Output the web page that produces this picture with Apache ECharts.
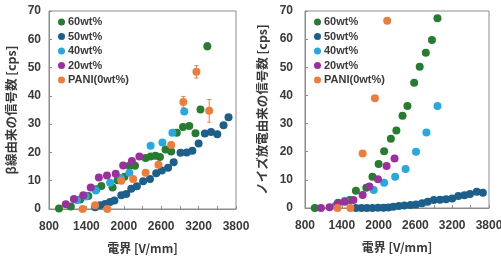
<!DOCTYPE html>
<html>
<head>
<meta charset="utf-8">
<script src="https://cdn.jsdelivr.net/npm/echarts@6/dist/echarts.min.js"></script>
<style>
  html, body { margin: 0; padding: 0; background: #fff; }
  #chart { width: 501px; height: 260px; }
</style>
</head>
<body>
<div id="chart"></div>
<script>
// series names
const names = ['60wt%', '50wt%', '40wt%', '20wt%', 'PANI(0wt%)'];
const colors = ['#267c2f', '#1b5f8a', '#27a8de', '#9c2ea0', '#ee7d3c'];

// left panel: beta-ray signals [V/mm, cps]
const beta60 = [[960, 0.2], [1150, 0.9], [1300, 3.4], [1430, 4.6], [1560, 7.0], [1640, 8.1], [1820, 7.6], [1900, 10.2], [2010, 11.4], [2090, 15.3], [2180, 15.3], [2350, 18.0], [2430, 18.6], [2510, 18.8], [2580, 18.4], [2670, 21.0], [2760, 20.3], [2850, 27.0], [2950, 29.0], [3050, 29.3], [3150, 26.8], [3230, 35.2], [3340, 57.5]];
const beta50 = [[1540, 0.6], [1620, 1.3], [1700, 1.8], [1780, 2.5], [1850, 3.0], [1960, 4.9], [2040, 5.3], [2120, 7.2], [2210, 8.0], [2310, 9.8], [2420, 10.6], [2520, 12.6], [2610, 13.6], [2710, 14.6], [2800, 16.5], [2910, 19.9], [3010, 20.0], [3100, 20.6], [3200, 23.2], [3300, 26.7], [3400, 27.2], [3500, 26.4], [3600, 29.6], [3680, 32.4]];
const beta40 = [[1250, 3.2], [1390, 4.4], [1550, 6.5], [1780, 9.3], [1950, 11.0], [2090, 12.8], [2430, 22.4], [2620, 23.5], [2780, 27.0], [2970, 34.5]];
const beta20 = [[1070, 1.7], [1200, 3.5], [1350, 4.9], [1470, 7.6], [1600, 11.1], [1730, 11.8], [1870, 12.5], [1990, 15.4], [2130, 17.0], [2250, 18.6]];
const betaPani = [[1340, 0], [1540, 1.3], [1735, 0], [1960, 10.0], [2150, 10.6], [2350, 12.8], [2555, 15.6], [2760, 22.6], [2955, 37.8], [3165, 48.5], [3370, 34.7]];
// error bars [V/mm, cps, +/-]
const betaPaniErr = [[2760, 22.6, 1.2], [2955, 37.8, 2.0], [3165, 48.5, 2.2], [3370, 34.7, 4.0]];
const beta60Err = [[3340, 57.5, 1.2]];

// right panel: noise discharge signals
const noise60 = [[960, 0], [1340, 1.9], [1530, 2.8], [1630, 6.1], [1800, 7.2], [1900, 11.1], [2000, 15.6], [2090, 20.2], [2200, 24.6], [2290, 27.5], [2390, 32.8], [2470, 36.2], [2580, 44.5], [2670, 50.2], [2770, 55.2], [2870, 59.7], [2960, 67.4]];
const noise50 = [[1630, 0], [1720, 0], [1810, 0], [1900, 0], [1990, 0.1], [2080, 0.1], [2160, 0.2], [2240, 0.4], [2330, 0.7], [2420, 0.9], [2520, 1.1], [2610, 1.2], [2710, 1.7], [2800, 2.2], [2900, 2.8], [3000, 2.9], [3100, 3.1], [3200, 3.4], [3300, 4.3], [3400, 4.5], [3490, 5.0], [3600, 5.8], [3700, 5.4]];
const noise40 = [[1300, 0.8], [1450, 2.6], [1920, 6.4], [2090, 9.0], [2270, 11.1], [2440, 13.9], [2610, 20.0], [2780, 26.8], [2960, 36.2]];
const noise20 = [[1060, 0], [1200, 0.3], [1330, 1.4], [1450, 2.2], [1590, 2.8], [1740, 4.6], [1850, 7.6], [1990, 10.2], [2130, 14.9], [2260, 17.6]];
const noisePani = [[1330, 0], [1540, 0], [1740, 19.4], [1940, 39.0], [2140, 66.5]];

const xTicks = { min: 800, max: 3800, step: 300, labelStep: 600 };
const yTicks = { min: 0, max: 70, step: 10 };

const latin = '"Liberation Sans", Arial, "Noto Sans CJK JP", sans-serif';
const cjk = '"Noto Sans CJK JP", "Liberation Sans", sans-serif';
const textColor = '#3a3a3a';
const frameColor = '#8c8c8c';

const chart = echarts.init(document.getElementById('chart'));

function xAxisFor(idx) {
  return {
    type: 'value', gridIndex: idx,
    min: xTicks.min, max: xTicks.max, interval: xTicks.step,
    name: '電界 [V/mm]', nameLocation: 'middle', nameGap: 33,
    nameTextStyle: { fontFamily: cjk, fontWeight: 'bold', fontSize: 12, color: textColor },
    axisLine: { show: true, lineStyle: { color: frameColor } },
    axisTick: { show: true, inside: true, length: 3, lineStyle: { color: frameColor } },
    splitLine: { show: false },
    axisLabel: {
      margin: 12, fontFamily: latin, fontWeight: 'bold', fontSize: 12, color: textColor,
      showMinLabel: true, showMaxLabel: true,
      formatter: v => ((v - xTicks.min) % xTicks.labelStep === 0 ? String(v) : '')
    }
  };
}

function yAxisFor(idx, name, gap, margin) {
  return {
    type: 'value', gridIndex: idx,
    min: yTicks.min, max: yTicks.max, interval: yTicks.step,
    name: name, nameLocation: 'middle', nameRotate: 90, nameGap: gap,
    nameTextStyle: { fontFamily: cjk, fontWeight: 'bold', fontSize: 12.5, color: textColor },
    axisLine: { show: true, lineStyle: { color: frameColor } },
    axisTick: { show: true, inside: true, length: 3, lineStyle: { color: frameColor } },
    splitLine: { show: false },
    axisLabel: { margin: margin, fontFamily: latin, fontWeight: 'bold', fontSize: 12, color: textColor }
  };
}

function scatter(name, data, idx, ci) {
  return {
    type: 'scatter', name: name, data: data,
    xAxisIndex: idx, yAxisIndex: idx,
    symbol: 'circle', symbolSize: 8,
    itemStyle: { color: colors[ci], opacity: 1 },
    emphasis: { disabled: true }, z: 3
  };
}

function errorBars(data, idx, ci) {
  return {
    type: 'custom', data: data, xAxisIndex: idx, yAxisIndex: idx,
    silent: true, z: 2,
    renderItem: (params, api) => {
      const x = api.value(0), y = api.value(1), e = api.value(2);
      const top = api.coord([x, y + e]);
      const bot = api.coord([x, y - e]);
      const style = { stroke: colors[ci], lineWidth: 1 };
      return {
        type: 'group',
        children: [
          { type: 'line', shape: { x1: top[0], y1: top[1], x2: bot[0], y2: bot[1] }, style },
          { type: 'line', shape: { x1: top[0] - 2, y1: top[1], x2: top[0] + 2, y2: top[1] }, style },
          { type: 'line', shape: { x1: bot[0] - 2, y1: bot[1], x2: bot[0] + 2, y2: bot[1] }, style }
        ]
      };
    }
  };
}

function legendFor(left) {
  return {
    data: names, orient: 'vertical', left: left, top: 11,
    icon: 'circle', itemWidth: 7, itemHeight: 7, itemGap: 2.5,
    selectedMode: false,
    textStyle: { fontFamily: latin, fontWeight: 'bold', fontSize: 11, color: textColor, lineHeight: 12, padding: [0, 0, 0, -2] }
  };
}

const leftSets = [beta60, beta50, beta40, beta20, betaPani];
const rightSets = [noise60, noise50, noise40, noise20, noisePani];

const series = [];
leftSets.forEach((d, i) => series.push(scatter(names[i], d, 0, i)));
rightSets.forEach((d, i) => series.push(scatter(names[i], d, 1, i)));
series.push(errorBars(betaPaniErr, 0, 4));
series.push(errorBars(beta60Err, 0, 0));

chart.setOption({
  animation: false,
  backgroundColor: '#ffffff',
  grid: [
    { left: 49, top: 11, width: 187, height: 198, show: true, borderColor: frameColor, borderWidth: 1, containLabel: false, outerBoundsMode: 'none' },
    { left: 305, top: 11, width: 184, height: 197, show: true, borderColor: frameColor, borderWidth: 1, containLabel: false, outerBoundsMode: 'none' }
  ],
  legend: [legendFor(53), legendFor(309)],
  xAxis: [xAxisFor(0), xAxisFor(1)],
  yAxis: [
    yAxisFor(0, 'β線由来の信号数 [cps]', 31, 8),
    yAxisFor(1, 'ノイズ放電由来の信号数 [cps]', 36, 12)
  ],
  series: series
});
</script>
</body>
</html>
